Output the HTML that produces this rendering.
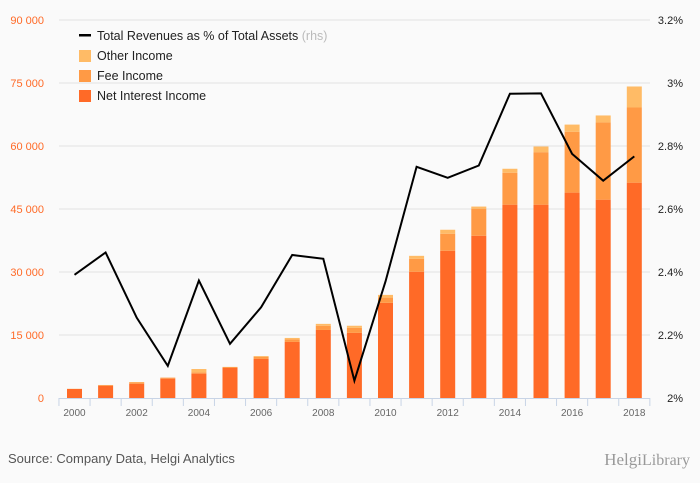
<!DOCTYPE html>
<html><head><meta charset="utf-8"><style>
body{margin:0;background:#fafafa;font-family:"Liberation Sans",sans-serif}
svg{display:block}
</style></head><body>
<svg id="chart" width="700" height="483" viewBox="0 0 700 483" xmlns="http://www.w3.org/2000/svg">
<rect width="700" height="483" fill="#fafafa"/>
<g id="grid"></g>
<g id="bars"></g>
<g id="line"></g>
<g id="axes"></g>
<g font-size="12.5" fill="#222">
<g><rect x="79" y="34" width="12" height="2.5" fill="#000"/><text x="97" y="40">Total Revenues as % of Total Assets <tspan fill="#bbb">(rhs)</tspan></text></g>
<g><rect x="79" y="50" width="12" height="12" fill="#ffbb66"/><text x="97" y="60">Other Income</text></g>
<g><rect x="79" y="70" width="12" height="12" fill="#ff9a45"/><text x="97" y="80">Fee Income</text></g>
<g><rect x="79" y="90" width="12" height="12" fill="#ff6a27"/><text x="97" y="100">Net Interest Income</text></g>
</g>
<text x="8" y="463" font-size="13" fill="#555">Source: Company Data, Helgi Analytics</text>
<text x="690" y="465" font-size="17" fill="#999" text-anchor="end" font-family="Liberation Serif,serif">Helgi<tspan font-size="16">Library</tspan></text>
</svg>
<script>
const years=[2000,2001,2002,2003,2004,2005,2006,2007,2008,2009,2010,2011,2012,2013,2014,2015,2016,2017,2018];
const netInterest=[2150,2900,3400,4600,5800,7150,9300,13350,16200,15500,22650,30050,35060,38630,46030,46030,48900,47220,51270];
const feeIncome=[0,200,300,250,300,250,500,600,1000,1200,1250,3100,4050,6450,7600,12500,14500,18400,17900];
const otherIncome=[50,0,100,0,800,0,200,350,450,500,650,700,950,500,950,1350,1700,1650,5000];
const ratio=[2.391,2.462,2.255,2.102,2.373,2.172,2.288,2.454,2.442,2.055,2.37,2.734,2.699,2.738,2.966,2.967,2.775,2.690,2.767];
const leftTicks=[0,15000,30000,45000,60000,75000,90000];
const leftTickLabels=["0","15 000","30 000","45 000","60 000","75 000","90 000"];
const rightTicks=[2.0,2.2,2.4,2.6,2.8,3.0,3.2];
const rightTickLabels=["2%","2.2%","2.4%","2.6%","2.8%","3%","3.2%"];
const NS="http://www.w3.org/2000/svg";
const y0=398,yTop=20;
const yL=v=>y0-(v/90000)*(y0-yTop);
const yR=v=>y0-((v-2)/1.2)*(y0-yTop);
const x=i=>74.5+i*31.1;
function mk(tag,attrs,parent,txt){const e=document.createElementNS(NS,tag);for(const k in attrs)e.setAttribute(k,attrs[k]);if(txt!==undefined)e.textContent=txt;parent.appendChild(e);return e;}
const grid=document.getElementById('grid'),bars=document.getElementById('bars'),line=document.getElementById('line'),axes=document.getElementById('axes');
leftTicks.forEach((t,i)=>{
 if(i>0){const g=mk('line',{x1:59,x2:650,y1:yL(t),y2:yL(t),stroke:'#e2e2e2','stroke-width':1},grid);
 
 }
 const l=mk('text',{x:44,y:yL(t)+4,'text-anchor':'end','font-size':'11',fill:'#ff6a27'},axes,leftTickLabels[i]);
 
 
});
rightTicks.forEach((t,i)=>{
 const l=mk('text',{x:683,y:yR(t)+4,'text-anchor':'end','font-size':'11',fill:'#222'},axes,rightTickLabels[i]);
 
 
});
const base=mk('line',{x1:59,x2:650,y1:y0+0.5,y2:y0+0.5,stroke:'#c8d4e6'},axes);


for(let i=0;i<=years.length;i++){const tx=x(i)-15.55;const tk=mk('line',{x1:tx,x2:tx,y1:y0,y2:y0+8,stroke:'#c8d4e6'},axes);
 
 }
years.forEach((yr,i)=>{
 if(i%2===0){const l=mk('text',{x:x(i),y:416,'text-anchor':'middle','font-size':'10',fill:'#666'},axes,yr);
 
 }
 const a=netInterest[i],b=feeIncome[i],c=otherIncome[i];
 const segs=[[0,a,'#ff6a27','net-interest'],[a,a+b,'#ff9a45','fee'],[a+b,a+b+c,'#ffbb66','other']];
 segs.forEach(s=>{if(s[1]<=s[0])return;const r=mk('rect',{x:x(i)-7.5,width:15,y:yL(s[1]),height:yL(s[0])-yL(s[1]),fill:s[2]},bars);
 
 });
});
const p=mk('polyline',{points:ratio.map((v,i)=>x(i)+','+yR(v)).join(' '),fill:'none',stroke:'#000','stroke-width':2,'stroke-linejoin':'miter'},line);


</script>
</body></html>
